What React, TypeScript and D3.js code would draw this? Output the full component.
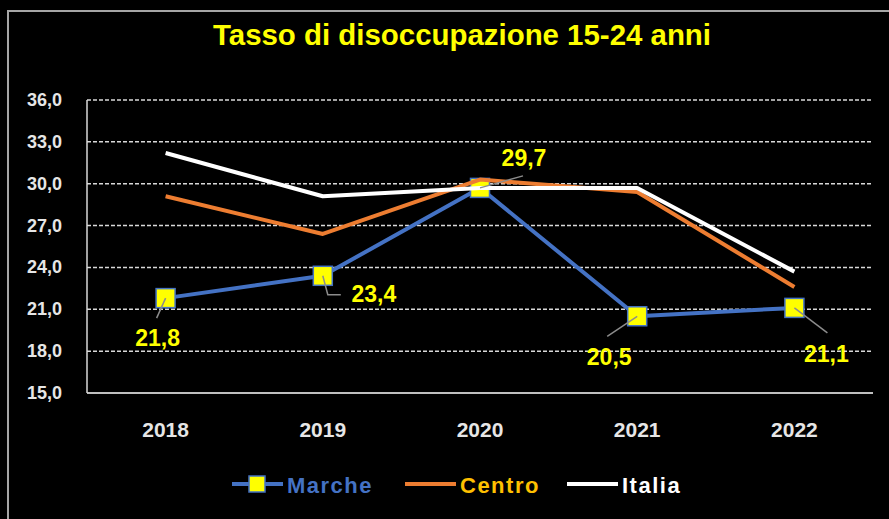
import React from 'react';
import * as d3 from 'd3';

// Data
const years = ['2018', '2019', '2020', '2021', '2022'];
const marche = [21.8, 23.4, 29.7, 20.5, 21.1];
const centro = [29.1, 26.4, 30.3, 29.4, 22.6];
const italia = [32.2, 29.1, 29.7, 29.7, 23.7];
const yTicks = [15, 18, 21, 24, 27, 30, 33, 36];

// label placement around each Marche point (label centre + leader end)
const labelPlacement = [
  { dx: -8, dy: 40, lx: -9, ly: 20 },
  { dx: 51, dy: 18, lx: 5, ly: 19, elbow: 18 },
  { dx: 44, dy: -30, lx: 43, ly: -12 },
  { dx: -28, dy: 41, lx: -30, ly: 20 },
  { dx: 32, dy: 46, lx: 33, ly: 25 },
];

const fmt = (v: number) => d3.format('.1f')(v).replace('.', ',');

const App = () => {
  const width = 889;
  const height = 519;
  const margin = { top: 100, right: 16, bottom: 126, left: 87 };

  const x = d3
    .scalePoint<string>()
    .domain(years)
    .range([margin.left, width - margin.right])
    .padding(0.5);

  const y = d3
    .scaleLinear()
    .domain([15, 36])
    .range([height - margin.bottom, margin.top]);

  const line = d3
    .line<number>()
    .x((_, i) => x(years[i]) as number)
    .y((d) => y(d));

  const font = '"Liberation Sans", Arial, sans-serif';
  const series = [
    { name: 'Marche', values: marche, color: '#4472C4', text: '#4472C4' },
    { name: 'Centro', values: centro, color: '#ED7D31', text: '#FFC000' },
    { name: 'Italia', values: italia, color: '#FFFFFF', text: '#FFFFFF' },
  ];
  const legendX = [232, 405, 567];

  return (
    <svg
      width={width}
      height={height}
      style={{ position: 'absolute', left: 0, top: 0, background: '#000' }}
      fontFamily={font}
    >
      <rect x={0} y={0} width={width} height={height} fill="#000" />
      {/* frame */}
      <rect x={8} y={11} width={1000} height={1000} fill="none" stroke="#a6a6a6" strokeWidth={2} />

      {/* title */}
      <text
        x={462}
        y={45}
        textAnchor="middle"
        fill="#FFFF00"
        fontSize={29}
        fontWeight="bold"
        textLength={498}
        lengthAdjust="spacingAndGlyphs"
      >
        Tasso di disoccupazione 15-24 anni
      </text>

      {/* grid */}
      {yTicks.slice(1).map((t) => (
        <line
          key={t}
          x1={margin.left}
          x2={width - margin.right}
          y1={y(t)}
          y2={y(t)}
          stroke="#d9d9d9"
          strokeWidth={1.5}
          strokeDasharray="4 2"
        />
      ))}
      <line x1={margin.left} x2={width - margin.right} y1={y(15)} y2={y(15)} stroke="#bfbfbf" strokeWidth={2} />
      <line x1={margin.left} x2={margin.left} y1={y(15)} y2={y(36)} stroke="#d9d9d9" strokeWidth={1.5} />

      {/* y ticks */}
      {yTicks.map((t) => (
        <text key={t} x={62} y={y(t) + 6} textAnchor="end" fill="#e6e6e6" fontSize={18} fontWeight="bold">
          {fmt(t)}
        </text>
      ))}

      {/* x ticks */}
      {years.map((yr) => (
        <text key={yr} x={x(yr)} y={437} textAnchor="middle" fill="#e6e6e6" fontSize={21} fontWeight="bold">
          {yr}
        </text>
      ))}

      {/* Marche line + markers, then Centro and Italia on top */}
      <path d={line(marche) as string} fill="none" stroke="#4472C4" strokeWidth={4} strokeLinejoin="round" />
      {marche.map((v, i) => (
        <rect
          key={i}
          x={(x(years[i]) as number) - 9.5}
          y={y(v) - 9.5}
          width={19}
          height={19}
          fill="#FFFF00"
          stroke="#4472C4"
          strokeWidth={1.5}
        />
      ))}
      {series.slice(1).map((s) => (
        <path
          key={s.name}
          d={line(s.values) as string}
          fill="none"
          stroke={s.color}
          strokeWidth={4}
          strokeLinejoin="round"
        />
      ))}

      {/* data labels */}
      {marche.map((v, i) => {
        const px = x(years[i]) as number;
        const py = y(v);
        const p = labelPlacement[i];
        const d = p.elbow
          ? `M${px},${py}L${px + p.lx},${py + p.ly}L${px + p.elbow},${py + p.ly}`
          : `M${px},${py}L${px + p.lx},${py + p.ly}`;
        return (
          <g key={i}>
            <path d={d} fill="none" stroke="#8c8c8c" strokeWidth={1.5} />
            <text
              x={px + p.dx}
              y={py + p.dy}
              textAnchor="middle"
              dominantBaseline="central"
              fill="#FFFF00"
              fontSize={23}
              fontWeight="bold"
            >
              {fmt(v)}
            </text>
          </g>
        );
      })}

      {/* legend */}
      {series.map((s, i) => (
        <g key={s.name} transform={`translate(${legendX[i]},484)`}>
          <line x1={0} x2={51} y1={0} y2={0} stroke={s.color} strokeWidth={4} />
          {s.name === 'Marche' && (
            <rect x={17} y={-8} width={16} height={16} fill="#FFFF00" stroke="#4472C4" strokeWidth={1.5} />
          )}
          <text x={55} y={9} fill={s.text} fontSize={22} fontWeight="bold" letterSpacing={1.5}>
            {s.name}
          </text>
        </g>
      ))}
    </svg>
  );
};

export default App;
